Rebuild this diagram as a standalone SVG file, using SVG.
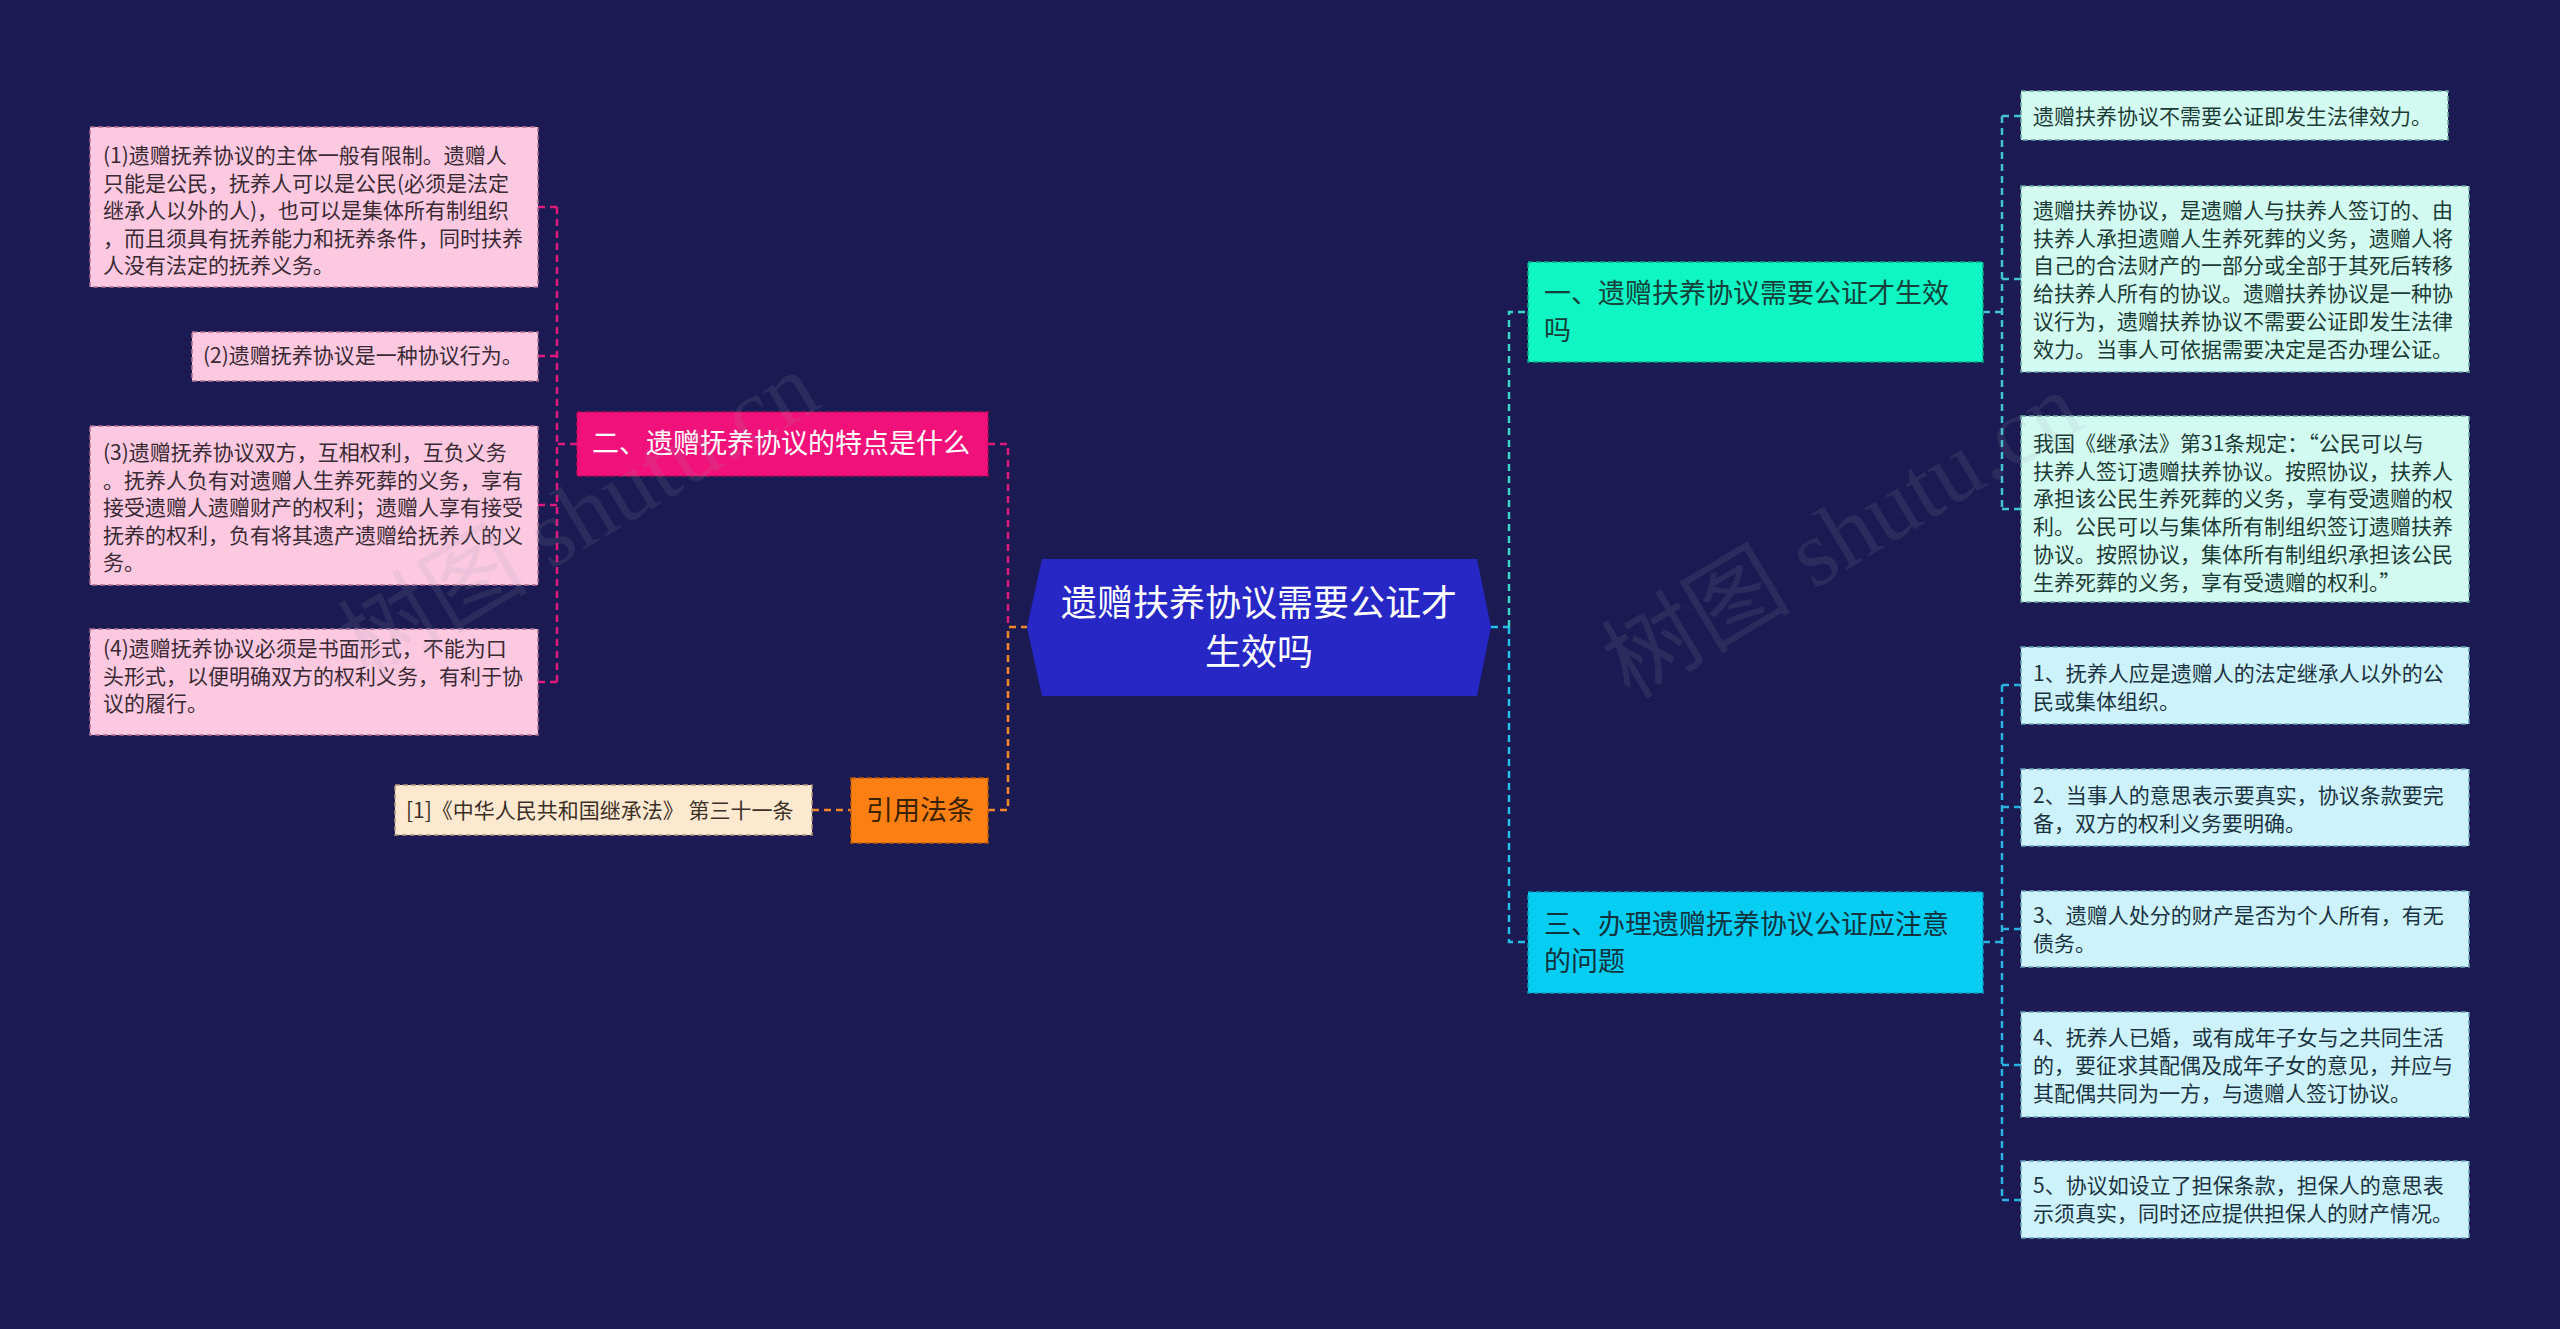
<svg xmlns="http://www.w3.org/2000/svg" width="2560" height="1329" viewBox="0 0 2560 1329">
<style>
text{font-family:"Noto Sans CJK SC","Microsoft YaHei",sans-serif;}
.leaf{font-size:21px;}
.pk{fill:#fcc9e1;stroke:#b07090;stroke-width:1.5;stroke-dasharray:5 3;}
.mint{fill:#d2faf0;stroke:#6aa8a0;stroke-width:1.5;stroke-dasharray:5 3;}
.sky{fill:#cdf2fb;stroke:#6aa0b8;stroke-width:1.5;stroke-dasharray:5 3;}
.peach{fill:#fde9d0;stroke:#b09878;stroke-width:1.5;stroke-dasharray:5 3;}
.tpk{fill:#3a2a33;}
.tmint{fill:#1d3b36;}
.tsky{fill:#1b3340;}
.c{fill:none;stroke-width:2.5;stroke-dasharray:7 5;}
.cp{stroke:#e0197d;}
.co{stroke:#f5852a;}
.ct{stroke:#3ad6c6;}
.cb{stroke:#22bfea;}
.ct2{stroke:#40c4d4;}
.cb2{stroke:#2ab2e2;}
.wm{font-family:"Liberation Serif","Noto Sans CJK SC",serif;font-size:95px;fill:#9a9ab0;opacity:0.13;}
</style>
<rect x="0" y="0" width="2560" height="1329" fill="#1b1a52"/>

<g id="connectors">
  <!-- center left -->
  <path class="c cp" d="M988 444 H1008 V627"/>
  <path class="c co" d="M988 810 H1008 V627 H1027"/>
  <path class="c co" d="M812 810 H851"/>
  <!-- pink trunk -->
  <path class="c cp" d="M577 444 H557"/>
  <path class="c cp" d="M557 207 V682"/>
  <path class="c cp" d="M538 207 H557 M538 356 H557 M538 505 H557 M538 682 H557"/>
  <!-- center right -->
  <path class="c cb" d="M1491 627 H1509"/>
  <path class="c ct" d="M1509 627 V312 H1528"/>
  <path class="c cb" d="M1509 627 V942 H1528"/>
  <!-- node 1 children -->
  <path class="c ct2" d="M1983 312 H2002"/>
  <path class="c ct2" d="M2002 116 V509"/>
  <path class="c ct2" d="M2002 116 H2021 M2002 279 H2021 M2002 509 H2021"/>
  <!-- node 3 children -->
  <path class="c cb2" d="M1983 942 H2002"/>
  <path class="c cb2" d="M2002 685 V1200"/>
  <path class="c cb2" d="M2002 685 H2021 M2002 807 H2021 M2002 929 H2021 M2002 1065 H2021 M2002 1200 H2021"/>
</g>

<g id="center">
  <polygon points="1027,627 1042,559 1477,559 1491,627 1477,696 1042,696" fill="#2727c6"/>
  <text x="1259" y="616" text-anchor="middle" font-size="36" fill="#ffffff">遗赠扶养协议需要公证才</text>
  <text x="1259" y="665" text-anchor="middle" font-size="36" fill="#ffffff">生效吗</text>
</g>

<g id="node-2">
  <rect x="577" y="412" width="411" height="64" fill="#f0127a" stroke="#b80a5a" stroke-width="1.5" stroke-dasharray="5 3"/>
  <text x="592" y="453" font-size="27" fill="#ffffff">二、遗赠抚养协议的特点是什么</text>
</g>

<g id="leaf-2-1">
  <rect class="pk" x="90" y="127" width="448" height="160"/>
  <text class="leaf tpk" x="103" y="163">
    <tspan x="103">(1)遗赠抚养协议的主体一般有限制。遗赠人</tspan>
    <tspan x="103" dy="27.5">只能是公民，抚养人可以是公民(必须是法定</tspan>
    <tspan x="103" dy="27.5">继承人以外的人)，也可以是集体所有制组织</tspan>
    <tspan x="103" dy="27.5">，而且须具有抚养能力和抚养条件，同时扶养</tspan>
    <tspan x="103" dy="27.5">人没有法定的抚养义务。</tspan>
  </text>
</g>
<g id="leaf-2-2">
  <rect class="pk" x="192" y="332" width="346" height="49"/>
  <text class="leaf tpk" x="203" y="363">(2)遗赠抚养协议是一种协议行为。</text>
</g>
<g id="leaf-2-3">
  <rect class="pk" x="90" y="426" width="448" height="159"/>
  <text class="leaf tpk" x="103" y="460">
    <tspan x="103">(3)遗赠抚养协议双方，互相权利，互负义务</tspan>
    <tspan x="103" dy="27.5">。抚养人负有对遗赠人生养死葬的义务，享有</tspan>
    <tspan x="103" dy="27.5">接受遗赠人遗赠财产的权利；遗赠人享有接受</tspan>
    <tspan x="103" dy="27.5">抚养的权利，负有将其遗产遗赠给抚养人的义</tspan>
    <tspan x="103" dy="27.5">务。</tspan>
  </text>
</g>
<g id="leaf-2-4">
  <rect class="pk" x="90" y="629" width="448" height="106"/>
  <text class="leaf tpk" x="103" y="656">
    <tspan x="103">(4)遗赠抚养协议必须是书面形式，不能为口</tspan>
    <tspan x="103" dy="27.5">头形式，以便明确双方的权利义务，有利于协</tspan>
    <tspan x="103" dy="27.5">议的履行。</tspan>
  </text>
</g>

<g id="node-law">
  <rect x="851" y="778" width="137" height="65" fill="#fb7f12" stroke="#c05a00" stroke-width="1.5" stroke-dasharray="5 3"/>
  <text x="866" y="820" font-size="27" fill="#3a2200">引用法条</text>
</g>
<g id="leaf-law">
  <rect class="peach" x="395" y="785" width="417" height="50"/>
  <text class="leaf" x="406" y="818" fill="#3a3028">[1]《中华人民共和国继承法》 第三十一条</text>
</g>

<g id="node-1">
  <rect x="1528" y="262" width="455" height="100" fill="#10f5c4" stroke="#0aa888" stroke-width="1.5" stroke-dasharray="5 3"/>
  <text x="1544" y="303" font-size="27" fill="#16403a">
    <tspan x="1544">一、遗赠扶养协议需要公证才生效</tspan>
    <tspan x="1544" dy="37">吗</tspan>
  </text>
</g>
<g id="leaf-1-1">
  <rect class="mint" x="2021" y="91" width="427" height="49"/>
  <text class="leaf tmint" x="2033" y="124">遗赠扶养协议不需要公证即发生法律效力。</text>
</g>
<g id="leaf-1-2">
  <rect class="mint" x="2021" y="186" width="448" height="186"/>
  <text class="leaf tmint" x="2033" y="218">
    <tspan x="2033">遗赠扶养协议，是遗赠人与扶养人签订的、由</tspan>
    <tspan x="2033" dy="27.7">扶养人承担遗赠人生养死葬的义务，遗赠人将</tspan>
    <tspan x="2033" dy="27.7">自己的合法财产的一部分或全部于其死后转移</tspan>
    <tspan x="2033" dy="27.7">给扶养人所有的协议。遗赠扶养协议是一种协</tspan>
    <tspan x="2033" dy="27.7">议行为，遗赠扶养协议不需要公证即发生法律</tspan>
    <tspan x="2033" dy="27.7">效力。当事人可依据需要决定是否办理公证。</tspan>
  </text>
</g>
<g id="leaf-1-3">
  <rect class="mint" x="2021" y="416" width="448" height="186"/>
  <text class="leaf tmint" x="2033" y="451">
    <tspan x="2033">我国《继承法》第31条规定：“公民可以与</tspan>
    <tspan x="2033" dy="27.7">扶养人签订遗赠扶养协议。按照协议，扶养人</tspan>
    <tspan x="2033" dy="27.7">承担该公民生养死葬的义务，享有受遗赠的权</tspan>
    <tspan x="2033" dy="27.7">利。公民可以与集体所有制组织签订遗赠扶养</tspan>
    <tspan x="2033" dy="27.7">协议。按照协议，集体所有制组织承担该公民</tspan>
    <tspan x="2033" dy="27.7">生养死葬的义务，享有受遗赠的权利。”</tspan>
  </text>
</g>

<g id="node-3">
  <rect x="1528" y="892" width="455" height="101" fill="#06cef3" stroke="#0a98c0" stroke-width="1.5" stroke-dasharray="5 3"/>
  <text x="1544" y="934" font-size="27" fill="#12323e">
    <tspan x="1544">三、办理遗赠抚养协议公证应注意</tspan>
    <tspan x="1544" dy="37">的问题</tspan>
  </text>
</g>
<g id="leaf-3-1">
  <rect class="sky" x="2021" y="647" width="448" height="77"/>
  <text class="leaf tsky" x="2033" y="681">
    <tspan x="2033">1、抚养人应是遗赠人的法定继承人以外的公</tspan>
    <tspan x="2033" dy="28">民或集体组织。</tspan>
  </text>
</g>
<g id="leaf-3-2">
  <rect class="sky" x="2021" y="769" width="448" height="77"/>
  <text class="leaf tsky" x="2033" y="803">
    <tspan x="2033">2、当事人的意思表示要真实，协议条款要完</tspan>
    <tspan x="2033" dy="28">备，双方的权利义务要明确。</tspan>
  </text>
</g>
<g id="leaf-3-3">
  <rect class="sky" x="2021" y="891" width="448" height="76"/>
  <text class="leaf tsky" x="2033" y="923">
    <tspan x="2033">3、遗赠人处分的财产是否为个人所有，有无</tspan>
    <tspan x="2033" dy="28">债务。</tspan>
  </text>
</g>
<g id="leaf-3-4">
  <rect class="sky" x="2021" y="1012" width="448" height="105"/>
  <text class="leaf tsky" x="2033" y="1045">
    <tspan x="2033">4、抚养人已婚，或有成年子女与之共同生活</tspan>
    <tspan x="2033" dy="28">的，要征求其配偶及成年子女的意见，并应与</tspan>
    <tspan x="2033" dy="28">其配偶共同为一方，与遗赠人签订协议。</tspan>
  </text>
</g>
<g id="leaf-3-5">
  <rect class="sky" x="2021" y="1161" width="448" height="77"/>
  <text class="leaf tsky" x="2033" y="1193">
    <tspan x="2033">5、协议如设立了担保条款，担保人的意思表</tspan>
    <tspan x="2033" dy="28">示须真实，同时还应提供担保人的财产情况。</tspan>
  </text>
</g>

<g id="watermark">
  <text class="wm" x="367" y="680" transform="rotate(-31 367 680)">树图 shutu.cn</text>
  <text class="wm" x="1630" y="700" transform="rotate(-31 1630 700)">树图 shutu.cn</text>
</g>
</svg>
